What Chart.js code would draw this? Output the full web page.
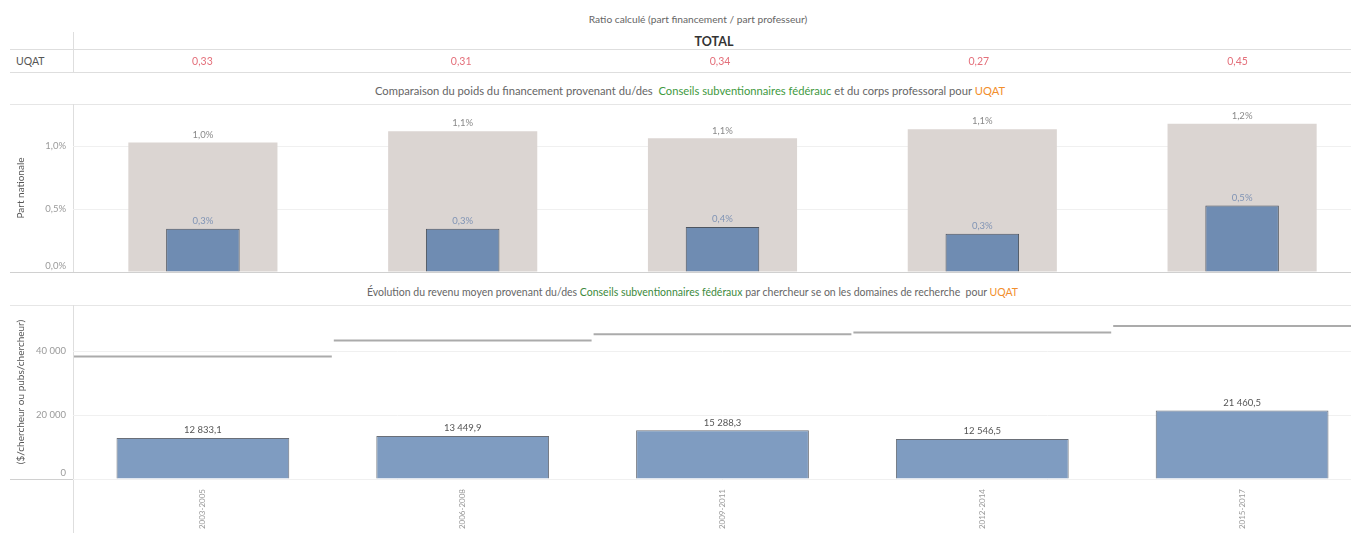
<!DOCTYPE html>
<html>
<head>
<meta charset="utf-8">
<script src="https://cdn.jsdelivr.net/npm/chart.js@4/dist/chart.umd.min.js"></script>
<style>
  body { margin: 0; background: #fff; font-family: Lato, "Open Sans", sans-serif; }
  #page { position: relative; width: 1351px; height: 533px; overflow: hidden; }
  .t { position: absolute; white-space: nowrap; color: #666; }
  .hl { position: absolute; height: 1px; background: #dedede; }
  .vl { position: absolute; width: 1px; background: #dedede; }
  canvas { position: absolute; left: 0; }
  .vert { color: #3f9a3f; }
  .orange { color: #f28e2b; }
</style>
</head>
<body>
<div id="page">
  <div class="t" style="left:0;width:1396px;text-align:center;top:13px;font-size:10.2px;">Ratio calculé (part financement / part professeur)</div>
  <div class="t" style="left:0;width:1428px;text-align:center;top:34px;font-size:12.5px;font-weight:bold;color:#333;">TOTAL</div>
  <div class="t" style="left:16px;top:55px;font-size:10.5px;color:#555;">UQAT</div>
  <div class="hl" style="left:10px;top:49px;width:1341px;"></div>
  <div class="hl" style="left:10px;top:72px;width:1341px;"></div>
  <div class="vl" style="left:73px;top:32px;height:41px;"></div>

  <div class="t" style="left:0;width:1380px;text-align:center;top:84px;font-size:11.2px;">Comparaison du poids du financement provenant du/des&nbsp; <span class="vert">Conseils subventionnaires fédérauc</span> et du corps professoral pour <span class="orange">UQAT</span></div>
  <div class="hl" style="left:10px;top:104px;width:1341px;background:#e6e6e6;"></div>
  <div class="vl" style="left:73px;top:104px;height:168px;"></div>
  <div class="hl" style="left:10px;top:272px;width:1341px;background:#d0d0d0;"></div>

  <div class="t" style="left:0;width:1385px;text-align:center;top:286px;font-size:10.5px;">Évolution du revenu moyen provenant du/des <span class="vert" style="color:#3d8a3d;">Conseils subventionnaires fédéraux</span> par chercheur se on les domaines de recherche&nbsp; pour <span class="orange">UQAT</span></div>
  <div class="hl" style="left:10px;top:305px;width:1341px;background:#e6e6e6;"></div>
  <div class="vl" style="left:73px;top:305px;height:228px;"></div>
  <div class="hl" style="left:10px;top:479px;width:1341px;background:#d0d0d0;"></div>

  <canvas id="tableau" width="1367" height="22" style="top:50px;"></canvas>
  <canvas id="poids" width="1372" height="168" style="top:104px;"></canvas>
  <canvas id="revenu" width="1372" height="228" style="top:305px;"></canvas>
</div>
<script>
const periodes = ['2003-2005', '2006-2008', '2009-2011', '2012-2014', '2015-2017'];
const ratios = [0.33, 0.31, 0.34, 0.27, 0.45];
const partProfesseurs = [1.03, 1.12, 1.064, 1.136, 1.178];
const partFinancement = [0.344, 0.344, 0.357, 0.305, 0.528];
const revenuMoyen = [12833.1, 13449.9, 15288.3, 12546.5, 21460.5];
const moyenneDomaines = [38400, 43400, 45300, 45900, 47900];
const ticksPoids = [0, 0.5, 1.0];
const ticksRevenu = [0, 20000, 40000];

Chart.defaults.font.family = 'Lato, "Open Sans", sans-serif';
Chart.defaults.animation = false;

const virgule = (v, d) => {
    const s = v.toFixed(d).replace('.', ',');
    const parts = s.split(',');
    parts[0] = parts[0].replace(/\B(?=(\d{3})+(?!\d))/g, ' ');
    return parts.join(',');
};

const garderTicks = (liste) => (scale) => {
    scale.ticks = liste.map(v => ({ value: v }));
};

// étiquettes au-dessus des barres
const etiquettes = {
    id: 'etiquettes',
    afterDatasetsDraw(chart) {
        const ctx = chart.ctx;
        ctx.save();
        chart.data.datasets.forEach((ds, i) => {
            if (!ds.etiquette) return;
            const meta = chart.getDatasetMeta(i);
            ctx.font = ds.etiquette.font;
            ctx.fillStyle = ds.etiquette.color;
            ctx.textAlign = 'center';
            ctx.textBaseline = 'bottom';
            meta.data.forEach((bar, j) => {
                ctx.fillText(ds.etiquette.format(ds.data[j]), bar.x, bar.y - 3);
            });
        });
        ctx.restore();
    }
};

// graduations de l'axe y, la dernière remontée dans la zone (comme Tableau)
const graduationsY = {
    id: 'graduationsY',
    afterDraw(chart, args, opts) {
        const ctx = chart.ctx, y = chart.scales.y, area = chart.chartArea;
        ctx.save();
        ctx.font = '9.5px Lato, "Open Sans", sans-serif';
        ctx.fillStyle = '#9a9a9a';
        ctx.textAlign = 'right';
        ctx.textBaseline = 'middle';
        y.ticks.forEach(t => {
            const py = Math.min(y.getPixelForValue(t.value), area.bottom - 6);
            ctx.fillText(opts.format(t.value), area.left - 7, py);
        });
        ctx.restore();
    }
};

// valeurs du tableau, une par colonne de l'axe x
const cellules = {
    id: 'cellules',
    afterDraw(chart) {
        const ctx = chart.ctx, x = chart.scales.x;
        ctx.save();
        ctx.font = '10.5px Lato, "Open Sans", sans-serif';
        ctx.fillStyle = '#e4707b';
        ctx.textAlign = 'center';
        ctx.textBaseline = 'middle';
        ratios.forEach((r, i) => {
            ctx.fillText(virgule(r, 2), x.getPixelForValue(i), 11.5);
        });
        ctx.restore();
    }
};

// lignes de référence par période (moyenne des domaines)
const reference = {
    id: 'reference',
    beforeDatasetsDraw(chart) {
        const ctx = chart.ctx, x = chart.scales.x, y = chart.scales.y;
        const demi = x.width / periodes.length / 2;
        ctx.save();
        ctx.strokeStyle = '#ababab';
        ctx.lineWidth = 2;
        moyenneDomaines.forEach((v, i) => {
            const cx = x.getPixelForValue(i), py = y.getPixelForValue(v);
            ctx.beginPath();
            ctx.moveTo(cx - demi + 1, py);
            ctx.lineTo(cx + demi - 1, py);
            ctx.stroke();
        });
        ctx.restore();
    }
};

new Chart(document.getElementById('tableau'), {
    type: 'bar',
    data: { labels: periodes, datasets: [{ data: ratios, backgroundColor: 'rgba(0,0,0,0)' }] },
    options: {
        responsive: false,
        devicePixelRatio: 1,
        layout: { padding: { left: 73 } },
        plugins: { legend: { display: false }, tooltip: { enabled: false } },
        scales: { x: { display: false }, y: { display: false, min: 0, max: 1 } }
    },
    plugins: [cellules]
});

const axeY = (titre, max, liste) => ({
    min: 0,
    max: max,
    stacked: false,
    afterFit: (s) => { s.width = 73; s.paddingTop = 0; s.paddingBottom = 0; },
    afterBuildTicks: garderTicks(liste),
    border: { display: false },
    grid: { color: '#f0f0f0', drawTicks: false },
    ticks: { display: false },
    title: { display: true, text: titre, color: '#555', font: { size: 10 }, padding: { top: 15, bottom: 0 } }
});

new Chart(document.getElementById('poids'), {
    type: 'bar',
    data: {
        labels: periodes,
        datasets: [
            {
                label: 'Part financement',
                data: partFinancement,
                backgroundColor: '#6f8cb2',
                borderColor: '#4d5560',
                borderWidth: 1,
                barPercentage: 0.283,
                categoryPercentage: 1,
                order: 0,
                etiquette: { color: '#8094b5', font: '9.5px Lato, "Open Sans", sans-serif', format: v => virgule(v, 1) + '%' }
            },
            {
                label: 'Part professeurs',
                data: partProfesseurs,
                backgroundColor: '#dbd5d2',
                borderWidth: 0,
                barPercentage: 0.574,
                categoryPercentage: 1,
                order: 1,
                etiquette: { color: '#8a8a8a', font: '9.5px Lato, "Open Sans", sans-serif', format: v => virgule(v, 1) + '%' }
            }
        ]
    },
    options: {
        responsive: false,
        devicePixelRatio: 1,
        layout: { padding: 0 },
        plugins: {
            legend: { display: false }, tooltip: { enabled: false },
            graduationsY: { format: v => virgule(v, 1) + '%' }
        },
        scales: {
            x: { stacked: true, display: false, afterFit: (s) => { s.height = 0; } },
            y: axeY('Part nationale', 1.336, ticksPoids)
        }
    },
    plugins: [etiquettes, graduationsY]
});

new Chart(document.getElementById('revenu'), {
    type: 'bar',
    data: {
        labels: periodes,
        datasets: [{
            label: 'Revenu moyen par chercheur',
            data: revenuMoyen,
            backgroundColor: '#7f9cc1',
            borderColor: '#6a6f78',
            borderWidth: 1,
            barPercentage: 0.665,
            categoryPercentage: 1,
            etiquette: { color: '#555', font: '9.5px Lato, "Open Sans", sans-serif', format: v => virgule(v, 1) }
        }]
    },
    options: {
        responsive: false,
        devicePixelRatio: 1,
        layout: { padding: 0 },
        plugins: {
            legend: { display: false }, tooltip: { enabled: false },
            graduationsY: { format: v => virgule(v, 0) }
        },
        scales: {
            x: {
                afterFit: (s) => { s.height = 54; },
                border: { display: false },
                grid: { display: false },
                ticks: { color: '#9a9a9a', font: { size: 8 }, minRotation: 90, maxRotation: 90, padding: 2 }
            },
            y: axeY('($/chercheur ou pubs/chercheur)', 54500, ticksRevenu)
        }
    },
    plugins: [reference, etiquettes, graduationsY]
});
</script>
</body>
</html>
